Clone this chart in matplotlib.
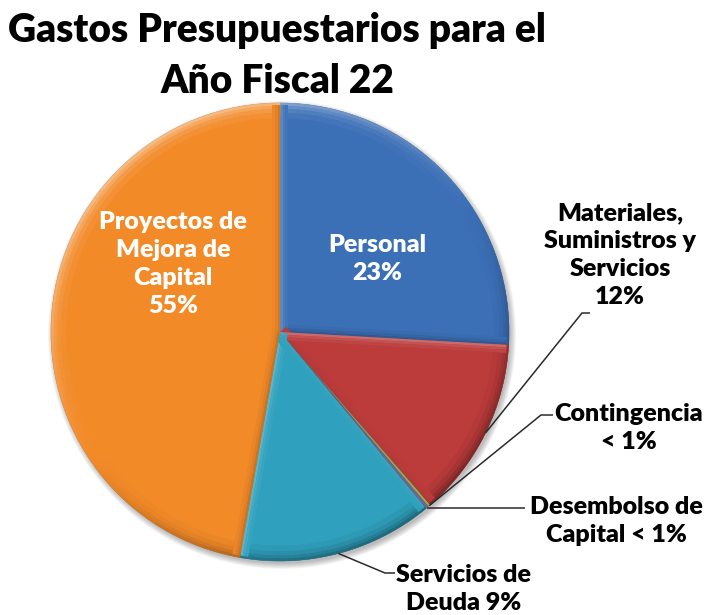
import numpy as np
import matplotlib
matplotlib.use("Agg")
import matplotlib.pyplot as plt
from matplotlib.patches import Wedge, Circle, Polygon
from matplotlib.colors import to_rgb

# ---------------- data ----------------
title_lines = ["Gastos Presupuestarios para el", "Año Fiscal 22"]
categories = ["Personal", "Materiales, Suministros y Servicios", "Contingencia",
              "Desembolso de Capital", "Servicios de Deuda",
              "Proyectos de Mejora de Capital"]
# slice sizes as drawn in the picture (percent of the circle)
values = [25.9, 12.7, 0.2, 0.2, 13.8, 47.2]
# percentages printed on the labels
pct_labels = ["23%", "12%", "< 1%", "< 1%", "9%", "55%"]
label_texts = ["Personal\n23%",
               "Materiales,\nSuministros y\nServicios\n12%",
               "Contingencia\n< 1%",
               "Desembolso de\nCapital < 1%",
               "Servicios de\nDeuda 9%",
               "Proyectos de\nMejora de\nCapital\n55%"]
colors = ["#3B6FB6", "#BC3B3B", "#8FB04E", "#7A5E9E", "#2FA0BD", "#F28A28"]

# ---------------- layout ----------------
W, H = 711, 615
fig = plt.figure(figsize=(W / 100, H / 100), dpi=100)
ax = fig.add_axes([0, 0, 1, 1])

cx, cy, R = 280, H - 332, 229

# soft outer shadow
for k in range(8):
    ax.add_patch(Circle((cx + 2, cy - 3), R + 5 - k * 0.8, color="black",
                        alpha=0.035, lw=0, zorder=0))

wedges, _ = ax.pie(values, colors=colors, startangle=90, counterclock=False,
                   center=(cx, cy), radius=R,
                   wedgeprops=dict(linewidth=0.5, edgecolor="#40404060"))

L = np.array([-0.55, 0.83])  # light direction (from top-left)


def shade(base, s, amt):
    b = np.array(to_rgb(base))
    if s >= 0:
        return tuple(b + (1 - b) * s * amt)
    return tuple(b * (1 + s * amt * 0.8))


# bevel on rims and radial edges
for w, col in zip(wedges, colors):
    t1, t2 = w.theta1, w.theta2
    if t2 - t1 < 2:
        continue
    step = 1.5
    angs = np.arange(t1, t2, step)
    layers = [(0, 3, 0.42), (3, 3, 0.28), (6, 4, 0.15), (10, 5, 0.06)]
    for a in angs:
        a2 = min(a + step, t2)
        am = np.radians((a + a2) / 2)
        s = float(np.dot([np.cos(am), np.sin(am)], L))
        for off, wd, amt in layers:
            c = shade(col, s, amt)
            ax.add_patch(Wedge((cx, cy), R - off, a, a2, width=wd, facecolor=c,
                               edgecolor=c, lw=0.3, zorder=2))
    # radial edges
    for th, sign in ((t1, -1), (t2, 1)):
        tr = np.radians(th)
        u = np.array([np.cos(tr), np.sin(tr)])
        nrm = sign * np.array([-np.sin(tr), np.cos(tr)])
        s = float(np.dot(nrm, L))
        for off, wd, amt in [(0, 2.5, 0.3), (2.5, 2.5, 0.15), (5, 3, 0.06)]:
            c = shade(col, s, amt)
            p0 = np.array([cx, cy]) - nrm * off
            p1 = p0 + u * (R - 2)
            p2 = p1 - nrm * wd
            p3 = p0 - nrm * wd
            ax.add_patch(Polygon([p0, p1, p2, p3], closed=True, facecolor=c,
                                 edgecolor="none", zorder=2))

# ---------------- labels ----------------
font = dict(family=["Lato", "DejaVu Sans"], fontweight="heavy", fontsize=18)
label_pos = [(377, 259), (620, 255), (629, 428), (616, 521), (464, 589), (173, 264)]
label_color = ["white", "black", "black", "black", "black", "white"]
for txt, (x, y), c in zip(label_texts, label_pos, label_color):
    ax.text(x, H - y, txt, ha="center", va="center", color=c,
            linespacing=1.33, zorder=5, **font)

# leader lines: rim at slice middle -> elbow -> text
elbows = {1: ((582, 313), (590, 313)),
          2: ((541, 415), (553, 415)),
          3: (None, (525, None)),
          4: ((385, 573), (395, 573))}
for i, (elb, end) in elbows.items():
    w = wedges[i]
    mid = np.radians((w.theta1 + w.theta2) / 2)
    ax_, ay_ = cx + R * np.cos(mid), cy + R * np.sin(mid)
    if elb is None:
        xs = [ax_, end[0]]
        ys = [ay_, ay_]
    else:
        xs = [ax_, elb[0], end[0]]
        ys = [ay_, H - elb[1], H - end[1]]
    ax.plot(xs, ys, color="#2a2a2a", lw=1.1, zorder=4, solid_capstyle="butt")

# ---------------- title ----------------
tfont = dict(fontsize=28, fontweight="heavy", family=["Lato", "DejaVu Sans"],
             color="black")
ax.text(277, H - 42, title_lines[0], ha="center", va="baseline", **tfont)
ax.text(277, H - 93, title_lines[1], ha="center", va="baseline", **tfont)

ax.set_xlim(0, W)
ax.set_ylim(0, H)
ax.set_aspect("equal")
ax.axis("off")
fig.savefig("out.png", dpi=100)
